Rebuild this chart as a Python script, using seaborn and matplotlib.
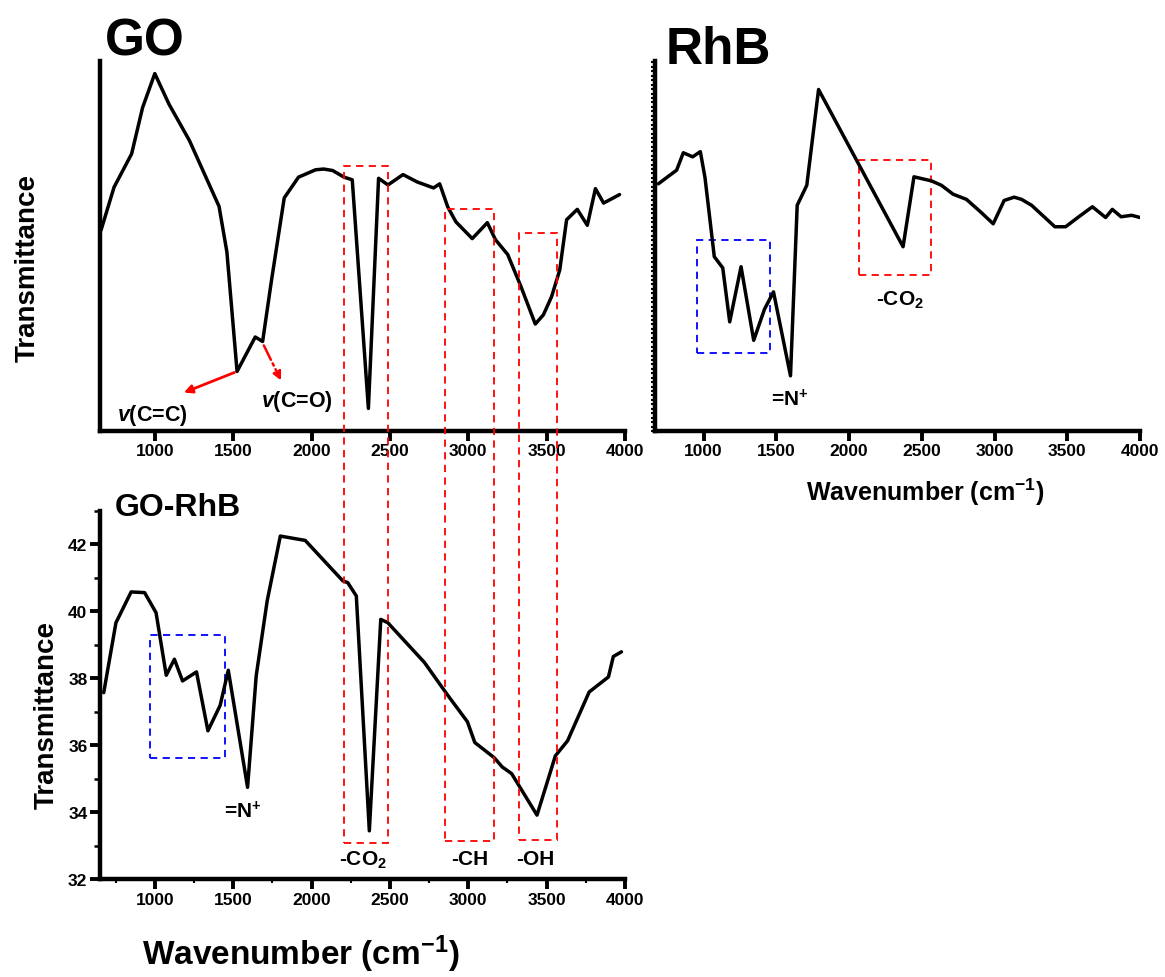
import matplotlib
matplotlib.use("Agg")
import matplotlib.pyplot as plt
import seaborn as sns
from matplotlib.patches import Rectangle
from matplotlib.ticker import MultipleLocator, AutoMinorLocator

# GO spectrum (arbitrary transmittance units)
go_wn = [657, 740, 852, 922, 1000, 1091, 1221, 1410, 1460, 1525, 1641, 1688, 1745, 1826,
         1917, 2026, 2078, 2135, 2208, 2260, 2363, 2428, 2488, 2584, 2675, 2779, 2818,
         2870, 2922, 3026, 3122, 3174, 3252, 3337, 3428, 3480, 3532, 3584, 3628, 3696,
         3760, 3812, 3864, 3966]
go_t = [54.3, 65.9, 74.9, 87.4, 96.6, 88.3, 78.5, 60.7, 48.4, 16.1, 25.4, 24.2, 40.8, 63.0,
        68.6, 70.6, 70.8, 70.4, 68.6, 67.9, 6.1, 68.3, 66.5, 69.3, 67.3, 65.7, 66.8,
        60.5, 56.5, 52.0, 56.3, 51.7, 47.7, 39.0, 28.9, 31.4, 36.3, 43.5, 57.1, 59.9,
        55.6, 65.5, 61.6, 63.9]

# RhB spectrum (arbitrary units)
rhb_wn = [688, 814, 860, 924, 977, 1009, 1073, 1131, 1179, 1257, 1344, 1418, 1480, 1597,
          1643, 1709, 1790, 2371, 2446, 2566, 2635, 2715, 2807, 2910, 2991, 3066, 3135,
          3186, 3255, 3415, 3489, 3576, 3673, 3764, 3810, 3870, 3943, 4000]
rhb_t = [66.8, 70.5, 75.2, 74.1, 75.5, 68.5, 47.1, 44.1, 29.5, 44.4, 24.5, 32.9, 37.6, 14.9,
         61.0, 66.4, 92.3, 49.8, 68.7, 67.6, 66.4, 64.0, 62.6, 59.0, 56.0, 62.3, 63.2,
         62.6, 61.0, 55.2, 55.2, 57.8, 60.6, 57.7, 59.9, 57.9, 58.3, 57.7]

# GO-RhB spectrum
gr_wn = [674, 752, 849, 935, 1008, 1073, 1125, 1177, 1266, 1339, 1417, 1469, 1592, 1647,
         1717, 1801, 1960, 2200, 2231, 2286, 2369, 2442, 2487, 2721, 2865, 2995, 3042,
         3165, 3217, 3277, 3439, 3504, 3556, 3634, 3772, 3895, 3926, 3978]
gr_t = [37.57, 39.66, 40.58, 40.56, 39.96, 38.09, 38.57, 37.92, 38.19, 36.43, 37.19, 38.24,
        34.74, 38.07, 40.31, 42.25, 42.12, 40.91, 40.86, 40.46, 33.44, 39.76, 39.66, 38.47,
        37.52, 36.70, 36.08, 35.63, 35.35, 35.15, 33.91, 34.89, 35.68, 36.13, 37.59, 38.04,
        38.65, 38.79]

# red bands shared by GO and GO-RhB: (x0, x1, top in GO units, bottom in GO-RhB units)
band_x0 = [2210, 2850, 3325]
band_x1 = [2490, 3165, 3565]
band_top = [71.5, 60.1, 53.5]
band_bot = [33.07, 33.14, 33.16]
band_labels = ["-CO$_2$", "-CH", "-OH"]
band_label_x = [2330, 3008, 3430]

sns.set_style("ticks")
plt.rcParams['font.family'] = ['Liberation Sans', 'DejaVu Sans']
plt.rcParams['font.weight'] = 'bold'
plt.rcParams['text.color'] = 'black'
plt.rcParams['axes.labelcolor'] = 'black'
plt.rcParams['axes.edgecolor'] = 'black'
plt.rcParams['xtick.color'] = 'black'
plt.rcParams['ytick.color'] = 'black'
plt.rcParams['mathtext.fontset'] = 'custom'
plt.rcParams['mathtext.rm'] = 'Liberation Sans:bold'
plt.rcParams['mathtext.bf'] = 'Liberation Sans:bold'
plt.rcParams['mathtext.it'] = 'Liberation Sans:italic:bold'

fig = plt.figure(figsize=(11.65, 9.78), dpi=100)
ax_go = fig.add_axes([0.0858, 0.5583, 0.4506, 0.3783])
ax_rhb = fig.add_axes([0.5622, 0.5583, 0.4163, 0.3783])
ax_gr = fig.add_axes([0.0858, 0.1002, 0.4506, 0.3763])

sns.lineplot(x=go_wn, y=go_t, ax=ax_go, color='black', lw=2.5, sort=False, estimator=None)
sns.lineplot(x=rhb_wn, y=rhb_t, ax=ax_rhb, color='black', lw=2.5, sort=False, estimator=None)
sns.lineplot(x=gr_wn, y=gr_t, ax=ax_gr, color='black', lw=2.5, sort=False, estimator=None)

for ax in [ax_go, ax_rhb, ax_gr]:
    sns.despine(ax=ax)
    for s in ['left', 'bottom']:
        ax.spines[s].set_linewidth(3.2)
    ax.set_xticks([1000, 1500, 2000, 2500, 3000, 3500, 4000])
    ax.tick_params(axis='x', which='major', length=7, width=2.8, labelsize=12.5, pad=2)
    ax.tick_params(axis='y', which='both', length=2, width=1.2, direction='inout')

ax_go.set_xlim(650, 4000)
ax_go.set_ylim(0, 100)
ax_go.yaxis.set_major_locator(MultipleLocator(15.25))
ax_go.set_yticklabels([])
ax_rhb.set_xlim(665, 4000)
ax_rhb.set_ylim(0, 100)
ax_rhb.yaxis.set_major_locator(MultipleLocator(1.2))
ax_rhb.tick_params(axis='y', which='major', length=3, width=1.5, direction='out')
ax_rhb.set_yticklabels([])
ax_gr.set_xlim(650, 4000)
ax_gr.set_ylim(32, 43)
ax_gr.xaxis.set_minor_locator(AutoMinorLocator(2))
ax_gr.tick_params(axis='x', which='minor', length=3, width=1.5)
ax_gr.set_yticks([32, 34, 36, 38, 40, 42])
ax_gr.yaxis.set_minor_locator(MultipleLocator(1))
ax_gr.tick_params(axis='y', which='major', length=7, width=2.8, labelsize=12.5, pad=2,
                  direction='out')
ax_gr.tick_params(axis='y', which='minor', length=4, width=1.8, direction='out')
for ax in [ax_go, ax_rhb, ax_gr]:
    for lab in ax.get_xticklabels() + ax.get_yticklabels():
        lab.set_fontweight('bold')

# panel titles
ax_go.text(0.086, 1.055, "GO", transform=ax_go.transAxes, ha='center', va='center',
           fontsize=37, fontweight='bold')
ax_rhb.text(0.13, 1.032, "RhB", transform=ax_rhb.transAxes, ha='center', va='center',
            fontsize=37, fontweight='bold')
ax_gr.text(0.149, 1.01, "GO-RhB", transform=ax_gr.transAxes, ha='center', va='center',
           fontsize=23, fontweight='bold')

# axis labels
ax_go.set_ylabel("Transmittance", fontsize=20, fontweight='bold')
ax_go.yaxis.set_label_coords(-0.112, 0.443)
ax_gr.set_ylabel("Transmittance", fontsize=20, fontweight='bold')
ax_gr.yaxis.set_label_coords(-0.076, 0.448)
ax_rhb.set_xlabel("Wavenumber (cm$^{-1}$)", fontsize=18, fontweight='bold')
ax_rhb.xaxis.set_label_coords(0.557, -0.12)
ax_gr.set_xlabel("Wavenumber (cm$^{-1}$)", fontsize=24, fontweight='bold')
ax_gr.xaxis.set_label_coords(0.383, -0.145)

# GO annotations
ax_go.annotate("", xy=(1169, 10.1), xytext=(1525, 16.1),
               arrowprops=dict(arrowstyle='-|>', color='red', lw=2, mutation_scale=12))
ax_go.annotate("", xy=(1813, 13.0), xytext=(1688, 23.8),
               arrowprops=dict(arrowstyle='-|>', color='red', lw=1.8, ls='-.', mutation_scale=12))
ax_go.text(987, 4.5, "$v$(C=C)", ha='center', va='center', fontsize=15.5, fontweight='bold')
ax_go.text(1909, 8.3, "$v$(C=O)", ha='center', va='center', fontsize=15.5, fontweight='bold')

# RhB annotations
ax_rhb.add_patch(Rectangle((954, 21.0), 1459 - 954, 51.6 - 21.0, fill=False,
                           ec='blue', lw=1.3, ls=(0, (4, 3))))
ax_rhb.add_patch(Rectangle((2065, 42.2), 2566 - 2065, 73.2 - 42.2, fill=False,
                           ec='red', lw=1.3, ls=(0, (4, 3))))
ax_rhb.text(1590, 8.6, "=N$^{+}$", ha='center', va='center', fontsize=15, fontweight='bold')
ax_rhb.text(2348, 35.6, "-CO$_2$", ha='center', va='center', fontsize=15, fontweight='bold')

# GO-RhB annotations
ax_gr.add_patch(Rectangle((970, 35.61), 1449 - 970, 39.29 - 35.61, fill=False,
                          ec='blue', lw=1.3, ls=(0, (4, 3))))
ax_gr.text(1561, 34.04, "=N$^{+}$", ha='center', va='center', fontsize=15, fontweight='bold')
for lx, lab in zip(band_label_x, band_labels):
    ax_gr.text(lx, 32.6, lab, ha='center', va='center', fontsize=15, fontweight='bold')

# red dashed bands spanning both left panels
inv = fig.transFigure.inverted()
for x0, x1, yt, yb in zip(band_x0, band_x1, band_top, band_bot):
    p0 = inv.transform(ax_gr.transData.transform((x0, yb)))
    p1 = inv.transform(ax_go.transData.transform((x1, yt)))
    fig.patches.append(Rectangle(p0, p1[0] - p0[0], p1[1] - p0[1], fill=False, ec='red',
                                 lw=1.3, ls=(0, (4, 3)), transform=fig.transFigure, figure=fig))

fig.savefig("out.png", dpi=100)
